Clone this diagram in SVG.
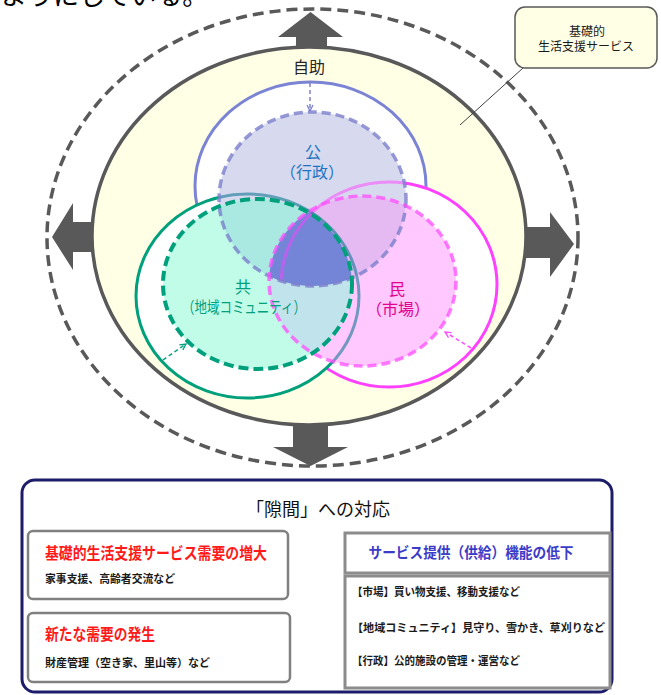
<svg xmlns="http://www.w3.org/2000/svg" width="661" height="695" viewBox="0 0 661 695">
<style>
text{font-family:'Noto Sans CJK JP','Noto Sans CJK SC',sans-serif}
.arw{fill:#595959}
.lbl{font-size:16px;text-anchor:middle}
.sm{font-size:11px;font-weight:bold;fill:#1a1a1a}
.red{font-size:16px;font-weight:bold;fill:#ff1a1a}
.box{fill:#fff;stroke:#808080;stroke-width:2.5}
.rbox{fill:#fff;stroke:#8c8c8c;stroke-width:3}
.dbl{fill:none;stroke:#8c8c8c;stroke-width:2.5}
</style>
<defs>
<clipPath id="cB"><ellipse cx="312.5" cy="199" rx="93.5" ry="87"/></clipPath>
<clipPath id="cG"><ellipse cx="257.5" cy="284" rx="94.5" ry="85"/></clipPath>
<clipPath id="cM"><ellipse cx="362.5" cy="281" rx="93.5" ry="85"/></clipPath>
<clipPath id="cBM"><ellipse cx="312.5" cy="199" rx="93.5" ry="87"/><ellipse cx="362.5" cy="281" rx="93.5" ry="85"/></clipPath>
<marker id="mB" viewBox="0 0 8 8" refX="7" refY="4" markerWidth="8" markerHeight="8" markerUnits="userSpaceOnUse" orient="auto"><path d="M1,1 L7,4 L1,7" fill="none" stroke="#7c80cc" stroke-width="1.3"/></marker>
<marker id="mG" viewBox="0 0 8 8" refX="7" refY="4" markerWidth="8" markerHeight="8" markerUnits="userSpaceOnUse" orient="auto"><path d="M1,1 L7,4 L1,7" fill="none" stroke="#00a07c" stroke-width="1.3"/></marker>
<marker id="mM" viewBox="0 0 8 8" refX="7" refY="4" markerWidth="8" markerHeight="8" markerUnits="userSpaceOnUse" orient="auto"><path d="M1,1 L7,4 L1,7" fill="none" stroke="#ff4dff" stroke-width="1.3"/></marker>
<marker id="mD" viewBox="0 0 10 10" refX="9" refY="5" markerWidth="10" markerHeight="10" markerUnits="userSpaceOnUse" orient="auto-start-reverse"><path d="M2,1 L9,5 L2,9" fill="none" stroke="#8c8c8c" stroke-width="2.2"/></marker>
</defs>

<text x="1" y="5" font-size="26" fill="#000">ようにしている。</text>

<g id="outer-ring">
<ellipse cx="312.5" cy="237.5" rx="265.5" ry="228.5" fill="none" stroke="#595959" stroke-width="3.5" stroke-dasharray="11 6"/>
</g>
<g id="expand-arrows">
<polygon class="arw" points="296,49 296,37 278,37 310.5,12 343,37 327,37 327,49"/>
<polygon class="arw" points="293,423 293,447 273,447 310.5,466 348,447 328,447 328,423"/>
<polygon class="arw" points="94,222 73,222 73,203 52,237 73,270 73,252 94,252"/>
<polygon class="arw" points="524,227 550,227 550,212 574,244 550,277 550,258 524,258"/>
</g>
<g id="self-help">
<ellipse cx="309" cy="236" rx="217" ry="189" fill="#ffffe6" stroke="#595959" stroke-width="3.5"/>
<text x="309" y="73" class="lbl" font-size="17" fill="#262626">自助</text>
</g>

<g id="solid-circles">
<ellipse cx="310.5" cy="186" rx="115.5" ry="104" fill="#fff" stroke="#7b84d4" stroke-width="3"/>
<ellipse cx="389" cy="284.5" rx="108" ry="102.5" fill="#fff" stroke="#ff40ff" stroke-width="3"/>
<ellipse cx="247.5" cy="296" rx="111.5" ry="102" fill="#fff" stroke="#00a07c" stroke-width="3"/>
</g>

<g id="areas">
<ellipse cx="312.5" cy="199" rx="93.5" ry="87" fill="#d7d9ef"/>
<ellipse cx="257.5" cy="284" rx="94.5" ry="85" fill="#c1fce9"/>
<ellipse cx="362.5" cy="281" rx="93.5" ry="85" fill="#ffc9ff"/>
<ellipse cx="257.5" cy="284" rx="94.5" ry="85" fill="#a9e9e2" clip-path="url(#cB)"/>
<ellipse cx="362.5" cy="281" rx="93.5" ry="85" fill="#e5baf3" clip-path="url(#cB)"/>
<ellipse cx="362.5" cy="281" rx="93.5" ry="85" fill="#c0e3ec" clip-path="url(#cG)"/>
<g clip-path="url(#cB)"><ellipse cx="362.5" cy="281" rx="93.5" ry="85" fill="#7485d8" clip-path="url(#cG)"/></g>
</g>

<g id="overlay-strokes">
<ellipse cx="389" cy="284.5" rx="108" ry="102.5" fill="none" stroke="#ff40ff" stroke-width="3" opacity="0.5" clip-path="url(#cB)"/>
<ellipse cx="247.5" cy="296" rx="111.5" ry="102" fill="none" stroke="#00708c" stroke-width="3" opacity="0.55" clip-path="url(#cBM)"/>
<ellipse cx="312.5" cy="199" rx="93.5" ry="87" fill="none" stroke="#7c80cc" stroke-width="3.5" stroke-dasharray="9 5" opacity="0.8"/>
<ellipse cx="362.5" cy="281" rx="93.5" ry="85" fill="none" stroke="#ff4dff" stroke-width="3.5" stroke-dasharray="9 5" opacity="0.75"/>
<ellipse cx="257.5" cy="284" rx="94.5" ry="85" fill="none" stroke="#00a07c" stroke-width="4" stroke-dasharray="10 5"/>
</g>

<g id="node-ko">
<text x="313" y="158" class="lbl" fill="#1f74c2">公</text>
<text x="312" y="178" class="lbl" fill="#1f74c2" font-size="15">（行政）</text>
</g>
<g id="node-kyo">
<text x="243" y="293" class="lbl" fill="#00a07c">共</text>
<text x="244" y="313" class="lbl" fill="#00a07c" font-size="15" textLength="124" lengthAdjust="spacingAndGlyphs">（地域コミュニティ）</text>
</g>
<g id="node-min">
<text x="397" y="295" class="lbl" fill="#e4008f">民</text>
<text x="398" y="315" class="lbl" fill="#e4008f" font-size="15">（市場）</text>
</g>

<g id="connectors">
<line x1="310" y1="83" x2="310" y2="111" stroke="#7c80cc" stroke-width="1.5" stroke-dasharray="4 3" marker-end="url(#mB)"/>
<line x1="163" y1="360" x2="186" y2="344" stroke="#00a07c" stroke-width="1.5" stroke-dasharray="4 3" marker-end="url(#mG)"/>
<line x1="471" y1="348" x2="445" y2="332" stroke="#ff4dff" stroke-width="1.5" stroke-dasharray="4 3" marker-end="url(#mM)"/>
<line x1="523" y1="68" x2="460" y2="125" stroke="#404040" stroke-width="1"/>
<line x1="300" y1="568" x2="337" y2="568" class="dbl" marker-start="url(#mD)" marker-end="url(#mD)"/>
<line x1="300" y1="650" x2="337" y2="650" class="dbl" marker-start="url(#mD)" marker-end="url(#mD)"/>
</g>

<g id="callout">
<rect x="515" y="7" width="142" height="61" rx="10" fill="#ffffe6" stroke="#595959" stroke-width="1.5"/>
<text x="587" y="36" font-size="12" text-anchor="middle" fill="#1a1a1a">基礎的</text>
<text x="586" y="51" font-size="12" text-anchor="middle" fill="#1a1a1a">生活支援サービス</text>
</g>

<g id="panel">
<rect x="22" y="480" width="590" height="212" rx="13" fill="#fff" stroke="#1c1c6b" stroke-width="3"/>
<text x="318" y="516" font-size="18" text-anchor="middle" fill="#111">「隙間」への対応</text>
</g>
<g id="need-1">
<rect x="28" y="531" width="260" height="68" rx="5" class="box"/>
<text x="45" y="559" class="red" textLength="222" lengthAdjust="spacingAndGlyphs">基礎的生活支援サービス需要の増大</text>
<text x="45" y="583" class="sm" textLength="130" lengthAdjust="spacingAndGlyphs">家事支援、高齢者交流など</text>
</g>
<g id="need-2">
<rect x="28" y="613" width="262" height="69" rx="5" class="box"/>
<text x="45" y="640" class="red" textLength="110" lengthAdjust="spacingAndGlyphs">新たな需要の発生</text>
<text x="45" y="667" class="sm" textLength="165" lengthAdjust="spacingAndGlyphs">財産管理（空き家、里山等）など</text>
</g>
<g id="supply-head">
<rect x="345" y="533" width="265" height="40" class="rbox"/>
<text x="471" y="558" font-size="15" font-weight="bold" fill="#3c3cc8" text-anchor="middle" textLength="205" lengthAdjust="spacingAndGlyphs">サービス提供（供給）機能の低下</text>
</g>
<g id="supply-body">
<rect x="345" y="576" width="265" height="112" class="rbox"/>
<text x="352" y="596" class="sm" textLength="168" lengthAdjust="spacingAndGlyphs">【市場】買い物支援、移動支援など</text>
<text x="352" y="632" class="sm" textLength="253" lengthAdjust="spacingAndGlyphs">【地域コミュニティ】見守り、雪かき、草刈りなど</text>
<text x="352" y="665" class="sm" textLength="168" lengthAdjust="spacingAndGlyphs">【行政】公的施設の管理・運営など</text>
</g>
</svg>
